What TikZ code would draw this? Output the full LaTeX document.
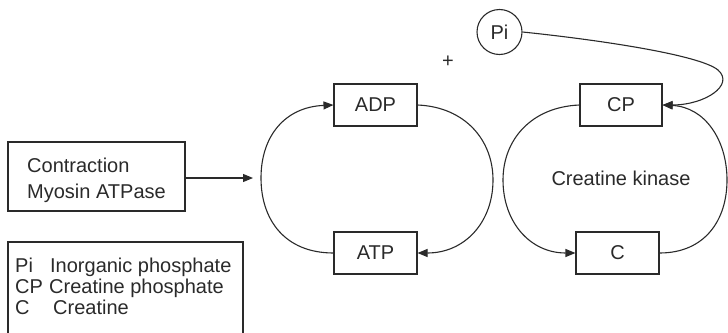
\documentclass[tikz,border=0pt]{standalone}
\usepackage{fontspec}
\setmainfont{Liberation Sans}
\usetikzlibrary{arrows.meta}
\definecolor{inkc}{HTML}{2A2A2A}
\tikzset{
  ln/.style={draw=inkc, line width=1.1pt},
  boxnode/.style={ln, minimum width=83pt, minimum height=42pt, inner sep=0pt, text=inkc},
  txt/.style={inner sep=0pt, anchor=base west, text=inkc},
  arr/.style={ln, -{Triangle[length=10pt,width=8pt]}},
}
\begin{document}
\begin{tikzpicture}[x=1pt,y=-1pt, font=\fontsize{20}{24}\selectfont]
\useasboundingbox (0,0) rectangle (728,332);
% boxes
\node[boxnode] (adp) at (375.5,105) {ADP};
\node[boxnode] (atp) at (375.5,253) {ATP};
\node[boxnode, minimum width=82pt] (cp) at (621,105) {CP};
\node[boxnode] (c) at (617.5,253) {C};
\node[ln, circle, minimum size=45pt, inner sep=0pt, text=inkc] (pi) at (499.5,32) {Pi};
\node[inner sep=0pt, text=inkc] (plus) at (448,62) {+};
\node[inner sep=0pt, text=inkc] (ck) at (621,178) {Creatine kinase};
% contraction box
\node[ln, minimum width=177pt, minimum height=69pt, inner sep=0pt] (contr) at (96.5,176.5) {};
\node[txt] (contr1) at (27,172) {Contraction};
\node[txt] (contr2) at (27,198) {Myosin ATPase};
\coordinate (contrend) at (253,178);
\draw[arr] (contr.east |- contrend) -- (contrend);
% legend
\node[ln, minimum width=235pt, minimum height=110pt, inner sep=0pt] (legend) at (125.5,297) {};
\node[txt] (leg1) at (15,272) {\makebox[35pt][l]{Pi}Inorganic phosphate};
\node[txt] (leg2) at (15,293) {\makebox[34pt][l]{CP}Creatine phosphate};
\node[txt] (leg3) at (15,314) {\makebox[38pt][l]{C}Creatine};
% left cycle
\draw[arr] (atp.west) .. controls (285,253) and (261,220) .. (261,178)
  .. controls (261,136) and (285,107) .. (adp.west);
\draw[arr] (adp.east) .. controls (465,107) and (493,140) .. (493,180)
  .. controls (493,222) and (465,253) .. (atp.east);
% right cycle
\draw[arr] (cp.west) .. controls (531,107) and (503,140) .. (503,180)
  .. controls (503,222) and (530,253) .. (c.west);
\draw[arr] (c.east) .. controls (705,253) and (727,220) .. (727,180)
  .. controls (727,140) and (705,107) .. (cp.east);
% Pi to CP
\draw[arr] (pi.east) .. controls (600,40) and (700,55) .. (718,70)
  .. controls (735,85) and (705,105) .. (cp.east);
\end{tikzpicture}
\end{document}
